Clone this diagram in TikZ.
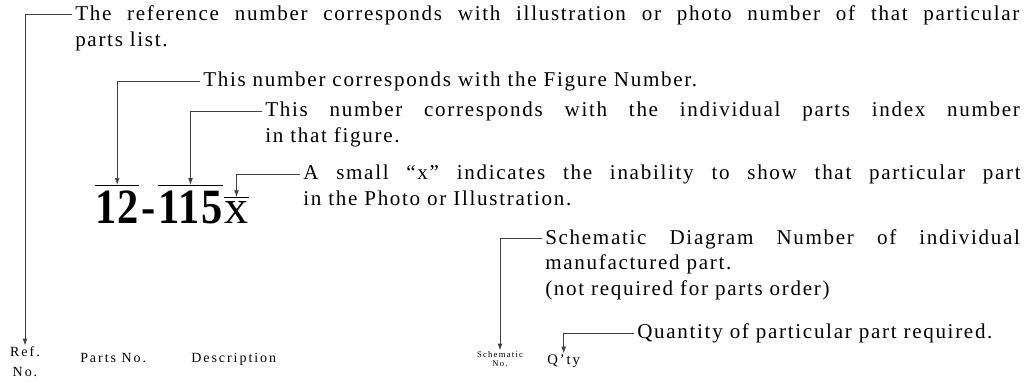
\documentclass[tikz,border=0pt]{standalone}
\usepackage{fontspec}
\setmainfont{Liberation Serif}
\newfontfamily\notefont[LetterSpace=8]{Liberation Serif}
\newfontfamily\headfont[LetterSpace=14]{Liberation Serif}
\newfontfamily\numfont[FakeStretch=0.86, LetterSpace=3]{Liberation Serif}
\usetikzlibrary{arrows.meta}

\begin{document}
\begin{tikzpicture}[
  x=0.75pt, y=-0.75pt,
  leader/.style={draw=black!75, line width=0.5pt,
    -{Latex[length=5pt,width=3.5pt]}, shorten >=0.5pt},
  ovl/.style={line width=0.8pt},
  note/.style={font={\notefont\fontsize{15.8}{19.5}\selectfont}, inner sep=0pt},
  lnote/.style={font={\notefont\fontsize{15.8}{19.1}\selectfont}, inner sep=0pt},
  head/.style={font={\headfont\fontsize{10.5}{15}\selectfont}, inner sep=0pt, align=center},
  smallhead/.style={font={\headfont\fontsize{6.5}{7}\selectfont}, inner sep=0pt, align=center},
  bignum/.style={font={\numfont\bfseries\fontsize{37}{37}\selectfont}, inner xsep=0pt, inner ysep=3.5pt},
  bigx/.style={font={\fontsize{36}{36}\selectfont}, inner xsep=0pt, inner ysep=2.25pt}
]
\useasboundingbox (0,0) rectangle (1034,385);

% ------------------------------------------------------------
% The number 12-115x
% ------------------------------------------------------------
\node[bignum, anchor=base west] (n12) at (95,223) {12};
\node[bignum, anchor=base west] (ndash) at ([xshift=1pt]n12.base east) {-};
\node[bignum, anchor=base west] (n115) at ([xshift=2pt]ndash.base east) {115};
\node[bigx, anchor=base west] (nx) at ([xshift=1pt]n115.base east) {x};

\draw[ovl] (n12.north west) -- (n12.north east);
\draw[ovl] (n115.north west) -- (n115.north east);
\draw[ovl] (nx.north west) -- (nx.north east);

% ------------------------------------------------------------
% Column heads
% ------------------------------------------------------------
\node[head, anchor=north] (ref) at (25,346) {Ref.\\No.};
\node[head, anchor=base west] (partsno) at (80,362) {Parts No.};
\node[head, anchor=base west] (desc) at (191,362) {Description};
\node[smallhead, anchor=north] (schno) at (500,351) {Schematic\\No.};
\node[head, font={\headfont\fontsize{11}{12}\selectfont}, anchor=base west]
  (qty) at (547,364) {Q’ty};

% ------------------------------------------------------------
% Notes
% ------------------------------------------------------------
\node[note, text width=708pt, align=justify, anchor=north west] (tref) at (75,5)
  {The reference number corresponds with illustration or photo number of that particular\linebreak parts list.};

\node[note, anchor=base west] (tfig) at (203,86)
  {This number corresponds with the Figure Number.};

\node[note, text width=566pt, align=justify, anchor=north west] (tidx) at (265,102)
  {This number corresponds with the individual parts index number\linebreak in that figure.};

\node[note, text width=538pt, align=justify, anchor=north west] (tx) at (303,165)
  {A small “x” indicates the inability to show that particular part\linebreak in the Photo or Illustration.};

\node[lnote, text width=356pt, align=justify, anchor=north west] (tsch) at (545,229)
  {Schematic Diagram Number of individual\linebreak manufactured part.\newline (not required for parts order)};

\node[lnote, anchor=base west] (tqty) at (637,338)
  {Quantity of particular part required.};

% ------------------------------------------------------------
% Leaders
% ------------------------------------------------------------
\draw[leader] ([xshift=-2pt,yshift=-7pt]tref.north west) -| (ref.north);
\draw[leader] ([xshift=-2pt,yshift=3.6pt]tfig.base west) -| (n12.north);
\draw[leader] ([xshift=-2pt,yshift=-7pt]tidx.north west) -| (n115.north);
\draw[leader] ([xshift=-2pt,yshift=-7pt]tx.north west) -| (nx.north);
\draw[leader] ([xshift=-2pt,yshift=-7pt]tsch.north west) -| (schno.north);
\draw[leader] ([xshift=-2pt,yshift=3.6pt]tqty.base west) -| (qty.north);

\end{tikzpicture}
\end{document}
